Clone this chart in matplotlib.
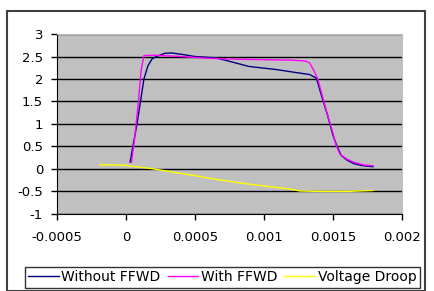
import matplotlib.pyplot as plt
from matplotlib.patches import Rectangle

plt.rcParams['font.family'] = ['DejaVu Sans']

# Without FFWD
t_without = [0.00003, 0.00005, 0.00008, 0.00011, 0.00013, 0.00016, 0.00019, 0.00022,
             0.00028, 0.00033, 0.0004, 0.0005, 0.00065, 0.00073, 0.00089, 0.00109,
             0.00124, 0.00133, 0.00138, 0.00142, 0.00146, 0.0015, 0.00153, 0.00156,
             0.0016, 0.00165, 0.0017, 0.00175, 0.00179]
v_without = [0.15, 0.5, 1.0, 1.6, 2.0, 2.3, 2.45, 2.5,
             2.57, 2.58, 2.55, 2.5, 2.47, 2.41, 2.28, 2.21,
             2.14, 2.1, 2.02, 1.6, 1.2, 0.75, 0.5, 0.3,
             0.2, 0.12, 0.08, 0.06, 0.05]

# With FFWD
t_with = [0.00004, 0.00006, 0.00009, 0.00011, 0.00013, 0.0002, 0.0004, 0.0006,
          0.0008, 0.001, 0.0012, 0.0013, 0.00133, 0.00136, 0.00139, 0.00145,
          0.0015, 0.00152, 0.00155, 0.0016, 0.00165, 0.00172, 0.00179]
v_with = [0.15, 0.6, 1.5, 2.2, 2.52, 2.53, 2.5, 2.46,
          2.44, 2.43, 2.42, 2.4, 2.36, 2.2, 2.0, 1.32,
          0.8, 0.55, 0.33, 0.22, 0.15, 0.09, 0.07]

# Voltage Droop
t_droop = [-0.00019, -0.0001, 0, 0.00005, 0.0001, 0.0002, 0.0003, 0.0004, 0.0005,
           0.00065, 0.00085, 0.001, 0.00115, 0.00126, 0.0014, 0.0016, 0.00179]
v_droop = [0.09, 0.09, 0.08, 0.06, 0.04, 0.0, -0.05, -0.1, -0.15,
           -0.23, -0.32, -0.38, -0.43, -0.49, -0.5, -0.5, -0.48]

x_ticks = [-0.0005, 0, 0.0005, 0.001, 0.0015, 0.002]
x_labels = ['-0.0005', '0', '0.0005', '0.001', '0.0015', '0.002']
y_ticks = [-1, -0.5, 0, 0.5, 1, 1.5, 2, 2.5, 3]
y_labels = ['-1', '-0.5', '0', '0.5', '1', '1.5', '2', '2.5', '3']

fig = plt.figure(figsize=(4.35, 2.91), dpi=100)
ax = fig.add_axes([0.131, 0.265, 0.793, 0.618])
ax.set_facecolor('#c0c0c0')

ax.plot(t_without, v_without, color='#000080', lw=1, label='Without FFWD')
ax.plot(t_with, v_with, color='#ff00ff', lw=1, label='With FFWD')
ax.plot(t_droop, v_droop, color='#ffff00', lw=1, label='Voltage Droop')

ax.set_xlim(-0.0005, 0.002)
ax.set_ylim(-1, 3)
ax.set_xticks(x_ticks, x_labels)
ax.set_yticks(y_ticks, y_labels)
ax.tick_params(labelsize=9.5, length=4, width=1, color='black')
ax.tick_params(axis='x', pad=8)
ax.tick_params(axis='y', pad=6)
ax.grid(axis='y', color='black', lw=1)
ax.set_axisbelow(True)
for side in ['top', 'right']:
    ax.spines[side].set_color('#c0c0c0')
ax.spines['left'].set_color('black')
ax.spines['bottom'].set_color('black')

ax.legend(loc='center', bbox_to_anchor=(0.511, 0.048),
          bbox_transform=fig.transFigure, ncol=3,
          fontsize=10, frameon=True, fancybox=False, edgecolor='black',
          handlelength=2.2, handletextpad=0.2, borderaxespad=0,
          borderpad=0.25, columnspacing=0.5)

fig.patches.append(Rectangle((7 / 435, 0), 418 / 435, 280 / 291, transform=fig.transFigure,
                             fill=False, edgecolor='#404040', lw=1.5))

plt.savefig('out.png', dpi=100)
